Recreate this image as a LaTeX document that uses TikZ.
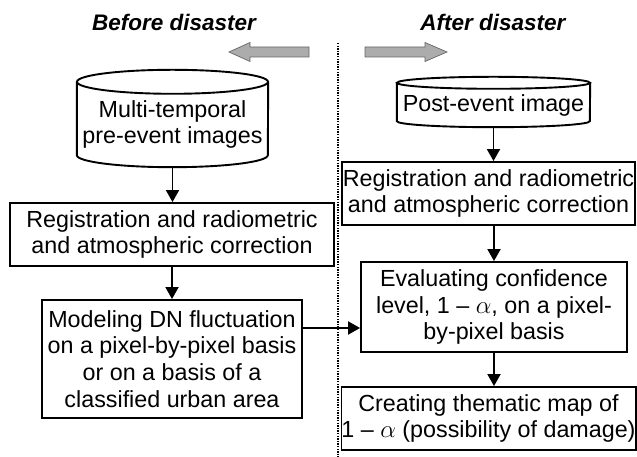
\documentclass[tikz,border=0pt]{standalone}
\usepackage{fontspec}
\setmainfont{Liberation Sans}
\usetikzlibrary{arrows.meta}
\begin{document}
\begin{tikzpicture}[x=1pt,y=1pt,
  every node/.style={font=\fontsize{23.3}{26.8}\selectfont, align=center, inner sep=0pt},
  procbox/.style={draw, line width=1.9pt, minimum width=#1},
  cylbody/.style={minimum width=#1},
  flow/.style={line width=1.9pt, -{Triangle[length=12pt,width=13pt]}},
  cylline/.style={line width=1.9pt},
  grayarrow/.style={fill=gray!65, draw=gray!80!black, line width=0.7pt},
  title/.style={font=\fontsize{22.5}{26.5}\selectfont\bfseries\itshape}
]
\useasboundingbox (0,0) rectangle (637,457);

% titles
\node[title] (tb) at (174,435) {Before disaster};
\node[title] (ta) at (493,435) {After disaster};

% gray arrows
\draw[grayarrow] (309,400) -- (250,400) -- (250,395.5) -- (229,405) -- (250,414.5) -- (250,410) -- (309,410) -- cycle;
\draw[grayarrow] (365,400) -- (425,400) -- (425,395.5) -- (447,405) -- (425,414.5) -- (425,410) -- (365,410) -- cycle;

% dotted separator
\coordinate (dtop) at (338,414);
\coordinate (dbot) at (338,0);
\draw[line width=1.8pt, dash pattern=on 1.4pt off 1.2pt] (dtop) -- (dbot);

% left column
\node[cylbody=191pt, minimum height=85pt] (c1) at (172.5,332.5) {Multi-temporal\\pre-event images};
\draw[cylline] (c1.north) ellipse [x radius=95.5pt, y radius=12pt];
\draw[cylline] (c1.north west) -- ([yshift=12pt]c1.south west) arc[start angle=180, end angle=360, x radius=95.5pt, y radius=12pt] -- (c1.north east);

\node[procbox=324pt, minimum height=63pt] (l2) at (172,222.5) {Registration and radiometric\\and atmospheric correction};
\node[procbox=260pt, minimum height=118pt] (l3) at (172,98) {Modeling DN fluctuation\\on a pixel-by-pixel basis\\or on a basis of a\\classified urban area};

% right column
\node[cylbody=193pt, minimum height=44pt] (c2) at (493.5,352) {Post-event image};
\draw[cylline] (c2.north) ellipse [x radius=96.5pt, y radius=6pt];
\draw[cylline] (c2.north west) -- ([yshift=6pt]c2.south west) arc[start angle=180, end angle=360, x radius=96.5pt, y radius=6pt] -- (c2.north east);

\node[procbox=293pt, minimum height=63pt] (r2) at (488.5,263.5) {Registration and radiometric\\and atmospheric correction};
\node[procbox=266pt, minimum height=90pt] (r3) at (494,150) {Evaluating confidence\\level, 1 -- $\alpha$, on a pixel-\\by-pixel basis};
\node[procbox=293pt, minimum height=63pt] (r4) at (488.5,38.5) {Creating thematic map of\\1 -- $\alpha$ (possibility of damage)};

% connectors
\draw[flow] (c1.south) -- (l2.north -| c1.south);
\draw[flow] (l2.south -| l3.north) -- (l3.north);
\draw[flow] (c2.south) -- (r2.north -| c2.south);
\draw[flow] (r2.south -| r3.north) -- (r3.north);
\draw[flow] (r3.south) -- (r4.north -| r3.south);
\draw[flow] ([yshift=31pt]l3.east) -- ([yshift=-21pt]r3.west);
\end{tikzpicture}
\end{document}
